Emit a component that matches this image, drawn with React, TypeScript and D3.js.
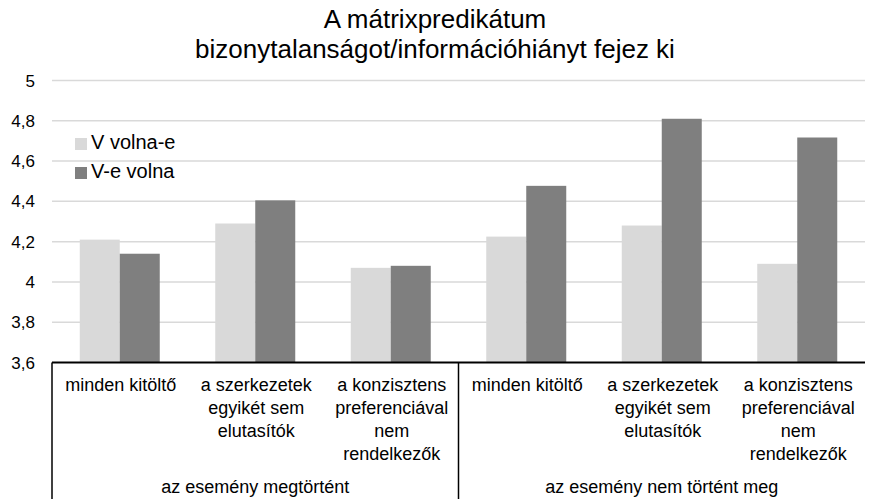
import React, { useRef, useEffect } from 'react';
import * as d3 from 'd3';

const categories = [
  'minden kitöltő|',
  'a szerkezetek|egyikét sem|elutasítók',
  'a konzisztens|preferenciával|nem|rendelkezők',
  'minden kitöltő|',
  'a szerkezetek|egyikét sem|elutasítók',
  'a konzisztens|preferenciával|nem|rendelkezők',
];
const groups = ['az esemény megtörtént', 'az esemény nem történt meg'];
const seriesNames = ['V volna-e', 'V-e volna'];
const seriesColors = ['#d9d9d9', '#7f7f7f'];
const volnaE = [4.21, 4.29, 4.07, 4.225, 4.28, 4.09];
const eVolna = [4.14, 4.405, 4.08, 4.477, 4.81, 4.717];
const yTicks = [3.6, 3.8, 4, 4.2, 4.4, 4.6, 4.8, 5];

const W = 871;
const H = 499;

const App: React.FC = () => {
  const svgRef = useRef<SVGSVGElement>(null);

  useEffect(() => {
    if (!svgRef.current) return;
    const svg = d3.select(svgRef.current);
    svg.selectAll('*').remove();

    const left = 52;
    const right = 865;
    const top = 80.5;
    const bottom = 362.5;
    const font = 'Liberation Sans, Arial, sans-serif';

    const x = d3.scaleBand<number>().domain(d3.range(categories.length)).range([left, right]);
    const y = d3.scaleLinear().domain([3.6, 5]).range([bottom, top]);

    // title, two lines
    const titleLines = ['A mátrixpredikátum', 'bizonytalanságot/információhiányt fejez ki'];
    svg.append('g').selectAll('text').data(titleLines).enter().append('text')
      .attr('x', 435).attr('y', (_, i) => 28 + i * 29.5)
      .attr('text-anchor', 'middle')
      .attr('font-family', font)
      .attr('font-size', 26)
      .attr('fill', '#000')
      .text(d => d);

    // grid + y labels
    svg.append('g').selectAll('line').data(yTicks.slice(1)).enter().append('line')
      .attr('x1', left).attr('x2', right)
      .attr('y1', d => y(d)).attr('y2', d => y(d))
      .attr('stroke', '#d9d9d9').attr('stroke-width', 1.5);

    svg.append('g').selectAll('text').data(yTicks).enter().append('text')
      .attr('x', 35).attr('y', d => y(d) + 6)
      .attr('text-anchor', 'end')
      .attr('font-family', font).attr('font-size', 17)
      .text(d => d3.format('.1f')(d).replace('.0', '').replace('.', ','));

    // bars
    const barW = 40;
    const series = [volnaE, eVolna];
    series.forEach((vals, si) => {
      svg.append('g').selectAll('rect').data(vals).enter().append('rect')
        .attr('x', (_, i) => (x(i) as number) + x.bandwidth() / 2 - barW + si * barW)
        .attr('y', d => y(d))
        .attr('width', barW)
        .attr('height', d => bottom - y(d))
        .attr('fill', seriesColors[si]);
    });

    // legend
    const lg = svg.append('g').attr('font-family', font).attr('font-size', 20);
    seriesNames.forEach((n, i) => {
      lg.append('rect').attr('x', 75).attr('y', 138 + i * 29).attr('width', 12).attr('height', 12)
        .attr('fill', seriesColors[i]);
      lg.append('text').attr('x', 91).attr('y', 148.5 + i * 29).text(n);
    });

    // category axis box
    const ax = svg.append('g').attr('stroke', '#000');
    ax.append('line').attr('x1', left).attr('x2', right).attr('y1', bottom).attr('y2', bottom).attr('stroke-width', 2);
    ax.append('line').attr('x1', left).attr('x2', left).attr('y1', bottom).attr('y2', H).attr('stroke-width', 1.5);
    const mid = x(3) as number;
    ax.append('line').attr('x1', mid).attr('x2', mid).attr('y1', bottom).attr('y2', H).attr('stroke-width', 1.5);

    const cat = svg.append('g').attr('font-family', font).attr('font-size', 18).attr('text-anchor', 'middle');
    categories.forEach((c, i) => {
      const t = cat.append('text');
      c.split('|').filter(s => s).forEach((line, li) => {
        t.append('tspan').attr('x', (x(i) as number) + x.bandwidth() / 2 + 1).attr('y', 391 + li * 23).text(line);
      });
    });
    groups.forEach((g, gi) => {
      cat.append('text')
        .attr('x', (x(gi * 3) as number) + x.bandwidth() * 1.5)
        .attr('y', 493)
        .text(g);
    });
  }, []);

  return <svg ref={svgRef} width={W} height={H} style={{ display: 'block', position: 'absolute', left: 0, top: 0 }} />;
};

export default App;
